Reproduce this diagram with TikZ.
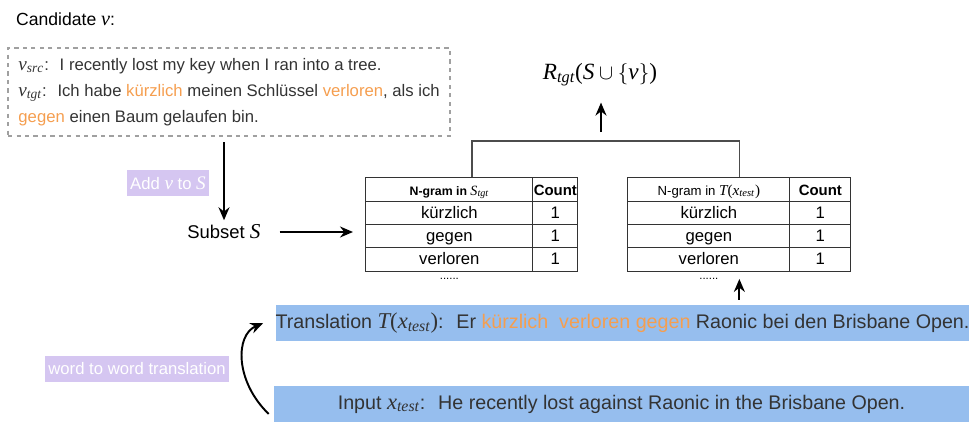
\documentclass[tikz,border=0pt]{standalone}
\usepackage[no-math]{fontspec}
\setmainfont{Liberation Sans}
\newfontfamily\libserif{Liberation Serif}[NFSSFamily=libserif,Scale=1.15]
\DeclareSymbolFont{letters}{TU}{libserif}{m}{it}
\DeclareSymbolFont{operators}{TU}{libserif}{m}{n}
\usetikzlibrary{positioning,calc,matrix,arrows.meta}
\definecolor{sentblue}{HTML}{96BEEE}
\definecolor{tagpurple}{HTML}{D5C6F1}
\definecolor{hlorange}{HTML}{F59E4F}
\definecolor{textgray}{HTML}{333333}
\definecolor{dashgray}{HTML}{A0A0A0}
\newcommand{\hl}[1]{\textcolor{hlorange}{#1}}
\newcommand{\fs}[1]{\fontsize{#1}{1.2\dimexpr #1pt\relax}\selectfont}
\tikzset{
  >={Stealth[length=2.6mm,width=2.2mm]},
  flow/.style={->,line width=1.1pt},
  tagbox/.style={fill=tagpurple,text=white,font=\fs{9.5},inner xsep=2pt,inner ysep=4pt},
  sentbox/.style={fill=sentblue,text=textgray,font=\fs{11.2},minimum height=0.72cm,inner sep=0pt},
  candbox/.style={draw=dashgray,line width=1.3pt,dash pattern=on 2.4pt off 2.4pt,
    text=textgray,align=left,inner xsep=0.1cm,font=\fontsize{9.5}{14.7}\selectfont},
  ngramtable/.style 2 args={
    matrix of nodes,
    inner sep=0pt,
    column sep=-0.6pt,
    row sep=-0.6pt,
    nodes={draw=black!80,line width=0.6pt,anchor=center,minimum height=0.466cm,
      text height=1.6ex,text depth=0.4ex,inner sep=0pt,font=\fs{9.5}},
    column 1/.style={nodes={minimum width=#1}},
    column 2/.style={nodes={minimum width=#2}}
  },
  hdr/.style={font=\bfseries\fs{7}},
  hdrplain/.style={font=\fs{7.5}},
  cnt/.style={font=\bfseries\fs{8.5}},
  etc/.style={font=\fs{6.5},inner sep=0pt},
  bracket/.style={draw=black!70,line width=0.8pt}
}
\begin{document}
\begin{tikzpicture}[x=0.02cm,y=-0.02cm]
  \useasboundingbox (0,0) rectangle (969,423);

  % candidate sentence pair
  \node [anchor=west,font=\fs{10}] (cand) at (10,19) {Candidate $v$:};
  \node [candbox,anchor=north west,minimum width=8.84cm,minimum height=1.76cm] (vbox) at (7,47)
    {$v_{src}$:~ I recently lost my key when I ran into a tree.\\
     $v_{tgt}$:~ Ich habe \hl{kürzlich} meinen Schlüssel \hl{verloren}, als ich\\
     \hl{gegen} einen Baum gelaufen bin.};

  \node [font=\fs{10.5},inner sep=1pt] (subset) at (224,232) {Subset $S$};
  \node [tagbox] (addv) at (168,183) {Add $v$ to $S$};
  \draw [flow,shorten <=0.1cm,shorten >=0.05cm] (vbox.south -| subset.north) -- (subset.north);

  % n-gram tables
  \matrix (t1) [ngramtable={3.34cm}{0.9cm},anchor=north west] at (365,177) {
    |[hdr]| N-gram in $S_{tgt}$ & |[cnt]| Count \\
    kürzlich & 1 \\
    gegen & 1 \\
    verloren & 1 \\
  };
  \matrix (t2) [ngramtable={3.24cm}{1.22cm},anchor=north west] at (627,177) {
    |[hdrplain]| N-gram in $T(x_{test})$ & |[cnt]| Count \\
    kürzlich & 1 \\
    gegen & 1 \\
    verloren & 1 \\
  };
  \node [etc,below=0.12cm of t1-4-1] (dots1) {......};
  \node [etc,below=0.12cm of t2-4-1] (dots2) {......};

  \draw [flow,shorten <=0.34cm,shorten >=0.24cm] (subset.east) -- (subset.east -| t1.west);

  % score of S plus v
  \node [font=\fs{11.5}] (rlabel) at (600,75) {$R_{tgt}(S\cup\{v\})$};
  \draw [bracket] (t1.north) -- ++(0,-36) -| (t2.north);
  \coordinate (join) at (601,141);
  \draw [flow,shorten <=0.18cm] (join) -- ($(rlabel.south)+(1,10)$);

  % test sentence and its translation
  \node [sentbox,minimum width=13.86cm] (trans) at (622.5,323)
    {Translation $T(x_{test})$:~ Er \hl{kürzlich}~ \hl{verloren gegen} Raonic bei den Brisbane Open.};
  \node [sentbox,minimum width=13.9cm] (inp) at (621.5,404)
    {Input $x_{test}$:~ He recently lost against Raonic in the Brisbane Open.};
  \draw [flow,shorten <=0.1cm,shorten >=0.14cm] (trans.north -| t2.south) -- (t2.south);

  \coordinate (wstart) at ($(inp.west)+(-5,10)$);
  \coordinate (wend) at ($(trans.west)+(-12,0)$);
  \draw [flow] (wstart) .. controls ($(wstart)+(-34,-33)$) and ($(wend)+(-28,12)$) .. (wend);
  \node [tagbox] (w2w) at (137,369) {word to word translation};
\end{tikzpicture}
\end{document}
